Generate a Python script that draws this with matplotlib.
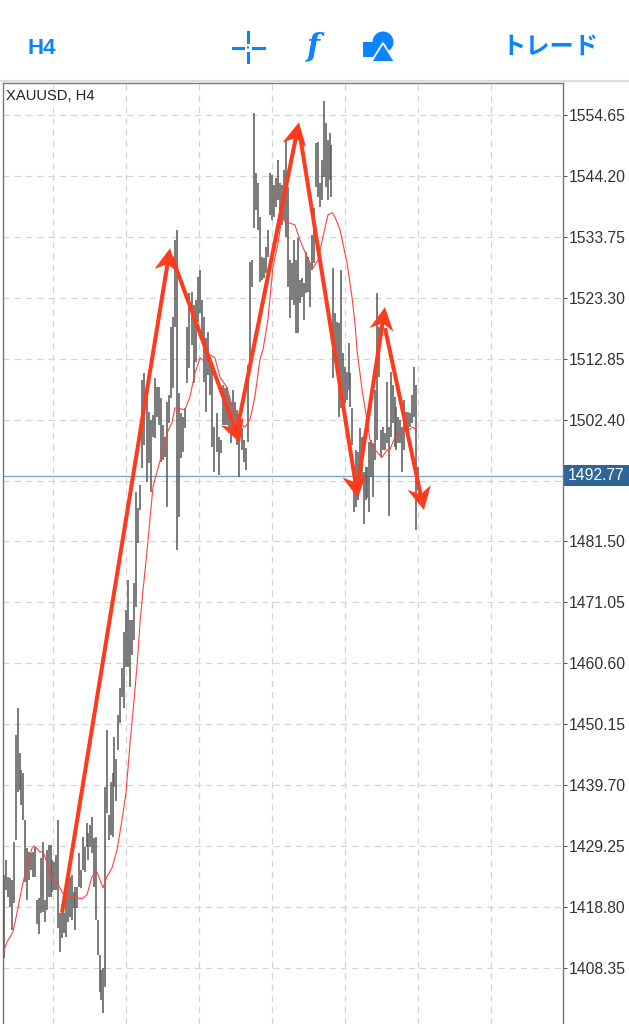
import numpy as np
import matplotlib
matplotlib.use('Agg')
import matplotlib.pyplot as plt
from matplotlib.patches import Polygon, Circle, Rectangle
from matplotlib.transforms import IdentityTransform

plt.rcParams['font.family'] = ['Liberation Sans', 'Noto Sans CJK JP', 'DejaVu Sans']

# one pair of (high, low) per H4 bar
bars = [
  (1424.3, 1410.1), (1426.9, 1421.7), (1424.0, 1420.5), (1423.8, 1418.8), (1423.4, 1414.9), (1430.0, 1419.5),
  (1448.3, 1430.3), (1452.9, 1438.5), (1445.2, 1438.9), (1442.3, 1436.3), (1441.8, 1433.7), (1433.7, 1423.1),
  (1428.9, 1420.0), (1428.2, 1423.4), (1428.0, 1425.2), (1428.2, 1424.0), (1429.1, 1424.0), (1420.0, 1415.9),
  (1420.4, 1414.2), (1427.2, 1417.8), (1430.0, 1418.0), (1420.0, 1416.2), (1428.6, 1418.3), (1429.4, 1420.5),
  (1429.4, 1420.5), (1426.9, 1421.4), (1426.5, 1421.7), (1427.7, 1421.7), (1433.7, 1415.2), (1417.8, 1411.1),
  (1417.8, 1413.5), (1417.8, 1414.4), (1420.5, 1413.7), (1424.8, 1416.2), (1424.0, 1417.0), (1424.3, 1416.6),
  (1421.4, 1418.7), (1422.2, 1414.9), (1422.2, 1418.7), (1428.0, 1422.2), (1425.2, 1422.1), (1430.8, 1425.2),
  (1429.1, 1424.8), (1433.2, 1429.1), (1431.5, 1426.9), (1432.9, 1429.1), (1434.2, 1428.0), (1430.7, 1422.2),
  (1430.8, 1416.6), (1416.6, 1410.6), (1410.6, 1404.2), (1408.0, 1402.9), (1408.4, 1400.7), (1439.4, 1405.0),
  (1449.2, 1435.0), (1434.6, 1430.3), (1440.3, 1431.2), (1441.8, 1430.8), (1448.0, 1439.4), (1444.1, 1436.9),
  (1451.8, 1445.8), (1456.4, 1450.4), (1459.8, 1454.9), (1466.0, 1452.9), (1469.8, 1460.0), (1474.9, 1460.0),
  (1468.1, 1456.6), (1468.1, 1462.1), (1474.4, 1464.6), (1490.0, 1470.3), (1487.3, 1481.3), (1491.2, 1486.9),
  (1509.2, 1494.1), (1510.4, 1498.1), (1507.0, 1491.7), (1503.7, 1495.0), (1502.4, 1490.0), (1503.2, 1499.5),
  (1509.6, 1499.3), (1508.0, 1502.9), (1508.0, 1501.5), (1506.1, 1495.2), (1501.5, 1495.5), (1499.5, 1496.0),
  (1505.5, 1487.4), (1506.7, 1501.9), (1518.3, 1506.1), (1520.0, 1507.9), (1533.2, 1518.3), (1535.0, 1480.1),
  (1507.0, 1485.7), (1503.6, 1495.9), (1502.9, 1496.9), (1504.4, 1501.0), (1518.3, 1508.7), (1524.2, 1511.3),
  (1524.3, 1515.2), (1522.1, 1508.7), (1522.9, 1512.3), (1526.9, 1519.2), (1528.1, 1520.7), (1522.9, 1516.6),
  (1520.0, 1508.9), (1516.4, 1503.7), (1517.5, 1510.1), (1513.2, 1506.7), (1511.8, 1497.7), (1501.2, 1493.5),
  (1503.6, 1496.9), (1499.5, 1492.9), (1498.9, 1496.7), (1508.4, 1501.5), (1507.9, 1501.5), (1508.0, 1501.5),
  (1506.7, 1500.1), (1505.5, 1498.4), (1507.5, 1502.0), (1505.5, 1499.8), (1504.1, 1498.1), (1502.7, 1492.6),
  (1501.0, 1497.2), (1498.9, 1495.2), (1497.6, 1493.8), (1511.8, 1498.6), (1529.5, 1511.8), (1529.8, 1525.2),
  (1555.0, 1535.3), (1544.7, 1538.4), (1543.0, 1535.0), (1537.2, 1526.0), (1530.3, 1526.4), (1530.2, 1526.7),
  (1532.0, 1527.6), (1535.0, 1530.3), (1544.7, 1537.5), (1544.4, 1536.7), (1542.7, 1537.2), (1543.9, 1538.9),
  (1547.0, 1540.1), (1543.0, 1536.2), (1542.7, 1535.8), (1545.2, 1536.7), (1550.6, 1533.8), (1542.3, 1525.2),
  (1529.8, 1519.9), (1529.3, 1522.9), (1533.2, 1522.1), (1529.8, 1517.3), (1533.6, 1517.3), (1526.4, 1522.4),
  (1526.7, 1523.5), (1525.9, 1519.5), (1531.2, 1524.2), (1530.3, 1524.3), (1529.3, 1521.7), (1534.1, 1528.1),
  (1538.7, 1529.3), (1549.9, 1542.3), (1550.0, 1540.6), (1543.0, 1538.9), (1547.0, 1540.1), (1557.1, 1544.0),
  (1553.3, 1542.3), (1550.4, 1540.1), (1551.6, 1543.5), (1549.5, 1540.6), (1528.4, 1509.6), (1520.7, 1514.4),
  (1519.2, 1510.9), (1519.0, 1502.9), (1528.1, 1504.4), (1513.9, 1504.6), (1511.5, 1505.3), (1510.6, 1505.8),
  (1515.6, 1507.5), (1510.4, 1504.6), (1504.4, 1498.1), (1493.3, 1486.6), (1497.2, 1487.4), (1496.9, 1488.6),
  (1501.0, 1494.3), (1499.5, 1492.6), (1493.5, 1484.5), (1494.3, 1488.6), (1494.3, 1489.0), (1498.6, 1486.6),
  (1498.9, 1492.6), (1498.4, 1489.2), (1507.5, 1495.5), (1524.2, 1498.9), (1518.3, 1509.7), (1500.7, 1496.0),
  (1501.2, 1497.2), (1500.1, 1497.2), (1508.9, 1498.4), (1501.2, 1485.9), (1510.6, 1499.5), (1508.4, 1501.9),
  (1506.3, 1497.7), (1504.6, 1497.2), (1502.9, 1498.4), (1502.4, 1498.4), (1501.2, 1493.5), (1505.8, 1497.2),
  (1503.7, 1500.6), (1503.7, 1500.6), (1503.5, 1501.2), (1506.7, 1501.9), (1511.5, 1502.9), (1508.4, 1483.5),
  (1494.3, 1490.3),
]
highs = [b[0] for b in bars]
lows = [b[1] for b in bars]

# list position of some recognisable bars and where they sit on the time axis
known_rows = [0, 33, 53, 60, 89, 126, 161, 170, 189, 210]
known_bars = [0, 31.5, 49.8, 56.2, 85.2, 123.2, 157.6, 166, 183.7, 204]

ma_bars = [0, 1.5, 4.4, 6.4, 7.9, 9.4, 11.8, 13.8, 14.8, 16.3, 17.7, 19.2, 21.2, 22.7, 24.1, 26.1, 28.6, 30, 31, 34,
           38.4, 40.9, 43.3, 45.8, 48.8, 50.7, 53.2, 55.7, 58.1, 60.1, 62.1, 63.5, 65.5, 67, 68.5, 70.4, 71.9, 73.4,
           75.9, 78.3, 80.3, 82.8, 84.2, 86.2, 89.2, 91.6, 94.1, 96.6, 99, 101.5, 103.9, 106.4, 109.9, 112.8, 115.3,
           118.7, 121.2, 123.6, 126.1, 127.6, 130, 132.5, 135, 136.9, 138.4, 140.9, 143.3, 145.8, 149.3, 152.2,
           154.7, 157.1, 159.6, 161.6, 163, 165.5, 169, 171.4, 172.9, 173.9, 176.4, 178.8, 180.3, 182.8, 186.2,
           188.7, 189.7, 192.6, 196.1, 199, 201.5, 203.4]
ma_prices = [1411.4, 1412.8, 1414.5, 1417.8, 1420.5, 1423.0, 1426.4, 1428.9, 1429.3, 1428.8, 1428.2, 1428.4, 1426.4,
             1424.3, 1423.4, 1423.0, 1421.4, 1420.5, 1420.7, 1420.5, 1420.2, 1420.9, 1424.0, 1424.8, 1422.1, 1424.0,
             1425.5, 1428.6, 1433.7, 1438.4, 1446.9, 1452.1, 1460.0, 1467.6, 1473.2, 1479.6, 1485.2, 1490.9, 1494.1,
             1497.2, 1500.1, 1501.9, 1504.4, 1504.3, 1504.1, 1506.3, 1510.4, 1513.0, 1512.3, 1513.5, 1513.0, 1509.7,
             1507.9, 1504.1, 1501.9, 1501.1, 1502.4, 1506.3, 1512.7, 1514.4, 1519.5, 1528.6, 1532.7, 1537.2, 1536.3,
             1536.1, 1535.8, 1533.2, 1530.3, 1528.4, 1529.8, 1533.7, 1537.5, 1537.9, 1537.2, 1535.0, 1529.3, 1523.5,
             1519.0, 1514.4, 1507.5, 1502.4, 1498.9, 1497.2, 1495.9, 1497.2, 1496.9, 1499.4, 1500.6, 1500.6, 1501.1,
             1500.4]

# hand drawn arrows: start bar, start price, tip bar, tip price
arrow_start_bar = [28.6, 82.8, 114.8, 145.8, 173.9, 187.7]
arrow_start_price = [1417.8, 1530.3, 1500.6, 1551.2, 1490.3, 1518.1]
arrow_tip_bar = [81.8, 116.3, 145.3, 174.4, 187.7, 206.9]
arrow_tip_price = [1531.8, 1498.4, 1553.4, 1488.9, 1521.7, 1486.9]

price_ticks = [1554.65, 1544.20, 1533.75, 1523.30, 1512.85, 1502.40, 1491.95,
               1481.50, 1471.05, 1460.60, 1450.15, 1439.70, 1429.25, 1418.80, 1408.35]
time_grid = [24, 60, 96, 132, 168, 204, 240]
last_price = 1492.77

BLUE = '#0A84FF'
RED = '#FF3B1E'

fig = plt.figure(figsize=(6.29, 10.24), dpi=100)
ax = fig.add_axes([3 / 629, 0, 560 / 629, (1024 - 83) / 1024])
ax.set_xlim(-0.5, 275.4)
ax.set_ylim(1398.73, 1560.14)

ax.set_yticks(price_ticks)
ax.set_yticklabels([('%.2f' % p) if p != 1491.95 else '' for p in price_ticks])
ax.set_xticks(time_grid)
ax.set_xticklabels([])
ax.yaxis.tick_right()
ax.tick_params(axis='y', length=3, width=0.8, color='#555555', labelsize=11.3, labelcolor='#333333', pad=1.5)
ax.tick_params(axis='x', length=0)
ax.grid(True, color='#d4d4d4', linestyle=(0, (5, 4)), linewidth=0.9)
ax.set_axisbelow(True)
for side in ['left', 'right', 'top']:
  ax.spines[side].set_color('#777777')
  ax.spines[side].set_linewidth(1.0)
ax.spines['bottom'].set_visible(False)

x_bars = np.interp(np.arange(len(highs)), known_rows, known_bars)
ax.vlines(x_bars, lows, highs, color='#5c5c5c', linewidth=1.15, zorder=3)
ax.plot(ma_bars, ma_prices, color='#FF4040', linewidth=0.8, zorder=4)

ax.axhline(last_price, color='#7FA6C4', linewidth=1.0, zorder=2)

ax.text(0.005, 0.9935, 'XAUUSD, H4', transform=ax.transAxes, fontsize=10.6, color='#222222', va='top', ha='left')

# arrows are built in pixels so the notched head keeps its shape
fig.canvas.draw()
for i in range(len(arrow_tip_bar)):
  p0 = ax.transData.transform((arrow_start_bar[i], arrow_start_price[i]))
  p1 = ax.transData.transform((arrow_tip_bar[i], arrow_tip_price[i]))
  d = (p1 - p0) / np.hypot(*(p1 - p0))
  n = np.array([-d[1], d[0]])
  notch = p1 - 16 * d
  head = [p1, p1 - 23 * d + 12 * n, notch, p1 - 23 * d - 12 * n]
  ax.add_patch(Polygon(head, closed=True, transform=IdentityTransform(), color=RED, lw=0, zorder=6))
  ax.plot([p0[0], notch[0] + 3 * d[0]], [p0[1], notch[1] + 3 * d[1]], transform=IdentityTransform(),
          color=RED, linewidth=2.9, solid_capstyle='butt', zorder=6)

# toolbar and last price box, pixel coordinates from the top left
ov = fig.add_axes([0, 0, 1, 1], zorder=10)
ov.set_xlim(0, 629)
ov.set_ylim(1024, 0)
ov.axis('off')
ov.patch.set_alpha(0)

ov.plot([0, 629], [81, 81], color='#dddddd', linewidth=1.6)

ov.text(42, 48, 'H4', color=BLUE, fontsize=16, fontweight='bold', ha='center', va='center')
ov.plot([233, 243], [47.5, 47.5], color=BLUE, linewidth=2.2)
ov.plot([253, 264], [47.5, 47.5], color=BLUE, linewidth=2.2)
ov.plot([248, 248], [32, 42], color=BLUE, linewidth=2.2)
ov.plot([248, 248], [53, 62], color=BLUE, linewidth=2.2)
ov.add_patch(Circle((248, 47.5), 1.2, color=BLUE, lw=0))
ov.text(313, 47, 'f', color=BLUE, fontsize=22, style='italic', fontweight='bold', family='DejaVu Serif',
        ha='center', va='center')
ov.add_patch(Rectangle((363, 42), 14, 15, color=BLUE, lw=0))
ov.add_patch(Circle((383, 42), 10.5, color=BLUE, lw=0))
ov.add_patch(Polygon([(383, 43), (395, 62), (371, 62)], closed=True, facecolor=BLUE, edgecolor='white', lw=1.3))
ov.text(550, 47, 'トレード', color=BLUE, fontsize=17.5, fontweight='bold', ha='center', va='center',
        family=['Noto Sans CJK JP', 'DejaVu Sans'])

ov.add_patch(Rectangle((564, 465), 65, 21, color='#2F6699', lw=0))
ov.text(596.5, 475.5, '%.2f' % last_price, color='white', fontsize=11.3, ha='center', va='center')

fig.savefig('out.png', dpi=100)
